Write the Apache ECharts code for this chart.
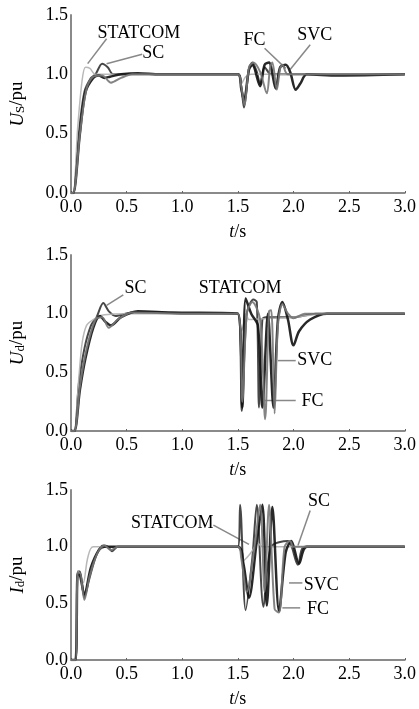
<!DOCTYPE html>
<html>
<head>
    <meta charset="utf-8" />
    <title>Us Ud Id</title>
    <script src="https://cdn.jsdelivr.net/npm/echarts@6/dist/echarts.min.js"></script>
    <style type="text/css">
        html, body { width: 100%; height: 100%; margin: 0; background: #fff; }
        #main { width: 419px; height: 709px; }
    </style>
</head>
<body>
    <div id="main"></div>
    <script>
        // tick labels
        var xTicks = [0, 0.5, 1.0, 1.5, 2.0, 2.5, 3.0];
        var yTicks = [0, 0.5, 1.0, 1.5];

        // Us/pu
        var usSC = [[0,0],[0.02,0],[0.07,0.5],[0.12,0.85],[0.18,0.97],[0.22,1.0],[0.28,1.09],[0.33,1.06],[0.38,1.0],[0.6,1.0],[1.5,1.0],
            [1.53,0.9],[1.555,0.72],[1.6,1.05],[1.63,1.1],[1.67,1.02],[1.7,0.92],[1.74,1.06],[1.8,1.0],[3.0,1.0]];
        var usSTATCOM = [[0,0],[0.02,0],[0.06,0.55],[0.1,0.95],[0.13,1.06],[0.17,1.05],[0.22,1.0],[1.5,1.0],
            [1.53,0.92],[1.57,0.98],[1.62,1.0],[3.0,1.0]];
        var usSVC = [[0,0],[0.02,0],[0.08,0.5],[0.13,0.85],[0.2,0.97],[0.25,0.99],[0.3,0.97],[0.35,0.98],[0.45,1.0],[0.6,1.01],[0.8,1.0],[1.5,1.0],
            [1.53,0.88],[1.555,0.78],[1.6,1.04],[1.63,1.08],[1.7,0.9],[1.74,1.08],[1.78,1.1],[1.84,0.88],[1.88,1.06],[1.93,1.08],[1.97,1.02],[2.02,0.87],[2.06,0.92],[2.12,1.0],[2.4,0.99],[3.0,1.0]];
        var usFC = [[0,0],[0.02,0],[0.08,0.5],[0.14,0.88],[0.2,0.98],[0.28,0.99],[0.36,0.93],[0.45,0.97],[0.55,1.0],[1.5,1.0],
            [1.53,0.9],[1.56,0.74],[1.6,1.06],[1.64,1.1],[1.7,1.02],[1.76,0.84],[1.79,1.06],[1.81,1.1],[1.85,0.87],[1.88,1.05],[1.9,1.08],[1.95,1.0],[3.0,1.0]];

        // Ud/pu
        var udSC = [[0,0],[0.03,0],[0.07,0.4],[0.12,0.7],[0.18,0.9],[0.23,0.97],[0.29,1.09],[0.34,1.02],[0.4,0.98],[0.55,1.01],[0.8,1.01],[1.0,1.0],[1.5,1.0],
            [1.535,0.17],[1.58,1.0],[1.64,1.12],[1.67,1.1],[1.69,0.2],[1.72,0.95],[1.75,0.97],[2.0,0.97],[2.2,1.0],[3.0,1.0]];
        var udSTATCOM = [[0,0],[0.03,0],[0.07,0.45],[0.1,0.75],[0.14,0.9],[0.2,0.95],[0.3,0.99],[0.5,1.0],[1.5,1.0],
            [1.53,0.85],[1.58,0.98],[1.6,0.95],[1.8,0.96],[2.0,0.97],[2.3,1.0],[3.0,1.0]];
        var udSVC = [[0,0],[0.03,0],[0.08,0.35],[0.13,0.62],[0.2,0.88],[0.26,0.98],[0.31,0.93],[0.36,0.9],[0.45,0.97],[0.6,1.02],[0.9,1.01],[1.5,1.0],
            [1.54,0.2],[1.57,1.13],[1.62,1.0],[1.68,0.9],[1.72,0.2],[1.77,1.0],[1.82,0.2],[1.86,0.95],[1.9,1.1],[1.95,0.95],[2.0,0.73],[2.05,0.85],[2.15,0.95],[2.3,1.0],[3.0,1.0]];
        var udFC = [[0,0],[0.03,0],[0.08,0.38],[0.14,0.7],[0.22,0.95],[0.28,0.97],[0.34,0.88],[0.42,0.95],[0.55,1.01],[1.0,1.0],[1.5,1.0],
            [1.54,0.25],[1.58,1.0],[1.63,1.1],[1.7,0.95],[1.745,0.1],[1.78,1.02],[1.8,1.03],[1.83,0.15],[1.86,0.9],[1.9,1.08],[1.95,1.0],[2.0,0.96],[2.1,1.0],[3.0,1.0]];

        // Id/pu
        var idSC = [[0,0],[0.04,0],[0.06,0.78],[0.08,0.78],[0.12,0.55],[0.16,0.7],[0.23,0.93],[0.29,1.01],[0.33,1.0],[0.37,0.96],[0.42,1.0],[1.5,1.0],
            [1.52,1.37],[1.57,0.44],[1.63,0.9],[1.67,1.37],[1.73,0.47],[1.8,1.0],[1.95,1.05],[2.04,0.84],[2.1,1.0],[3.0,1.0]];
        var idSTATCOM = [[0,0],[0.04,0],[0.06,0.78],[0.08,0.76],[0.11,0.68],[0.15,0.9],[0.2,1.0],[1.5,1.0],
            [1.55,0.88],[1.62,0.95],[1.68,1.03],[1.72,1.0],[3.0,1.0]];
        var idSVC = [[0,0],[0.04,0],[0.06,0.76],[0.08,0.75],[0.12,0.58],[0.18,0.82],[0.25,0.97],[0.3,1.0],[1.5,1.0],
            [1.55,0.85],[1.6,0.55],[1.67,1.05],[1.72,1.37],[1.76,0.48],[1.81,1.35],[1.87,0.43],[1.93,0.95],[1.98,1.05],[2.05,0.85],[2.12,1.0],[3.0,1.0]];
        var idFC = [[0,0],[0.04,0],[0.06,0.77],[0.08,0.77],[0.12,0.53],[0.17,0.75],[0.24,0.95],[0.3,1.01],[0.36,0.97],[0.42,1.0],[1.5,1.0],
            [1.53,0.9],[1.58,0.6],[1.65,1.0],[1.7,1.37],[1.74,0.6],[1.78,1.37],[1.83,0.45],[1.87,0.42],[1.92,1.0],[1.97,1.05],[2.0,1.0],[3.0,1.0]];

        var seriesNames = ['SC', 'STATCOM', 'SVC', 'FC'];
        var panels = [
            { name: ['U', 'S'], data: [usSC, usSTATCOM, usSVC, usFC] },
            { name: ['U', 'd'], data: [udSC, udSTATCOM, udSVC, udFC] },
            { name: ['I', 'd'], data: [idSC, idSTATCOM, idSVC, idFC] }
        ];

        // annotations: [panel, text, textT, textV, lineT1, lineV1, lineT2, lineV2]
        var notes = [
            [0, 'STATCOM', 0.61, 1.35, 0.32, 1.30, 0.15, 1.09],
            [0, 'SC', 0.74, 1.18, 0.64, 1.17, 0.32, 1.09],
            [0, 'FC', 1.65, 1.29, 1.74, 1.22, 1.93, 1.05],
            [0, 'SVC', 2.19, 1.33, 2.15, 1.25, 1.97, 1.04],
            [1, 'SC', 0.58, 1.22, 0.47, 1.16, 0.32, 1.07],
            [1, 'STATCOM', 1.52, 1.22],
            [1, 'SVC', 2.19, 0.60, 2.02, 0.60, 1.86, 0.60],
            [1, 'FC', 2.17, 0.25, 2.02, 0.26, 1.74, 0.26],
            [2, 'STATCOM', 0.91, 1.21, 1.28, 1.19, 1.60, 1.02],
            [2, 'SC', 2.23, 1.40, 2.15, 1.32, 2.04, 1.01],
            [2, 'SVC', 2.25, 0.66, 2.08, 0.68, 1.96, 0.68],
            [2, 'FC', 2.22, 0.45, 2.06, 0.46, 1.90, 0.46]
        ];

        var lineColors = ['#333', '#b0b0b0', '#111', '#777'];
        var lineWidths = [2, 1.5, 2.5, 2];
        var font = 'Liberation Serif';
        var gridTops = [15, 255, 490];
        var gridHeights = [178, 176, 179];

        var myChart = echarts.init(document.getElementById('main'));

        var grids = [], xAxes = [], yAxes = [], series = [];
        panels.forEach(function (p, g) {
            grids.push({ left: 63, width: 345, top: gridTops[g], height: gridHeights[g] });
            xAxes.push({
                type: 'value', gridIndex: g, min: 0, max: 3, interval: 0.5,
                name: '{i|t}/s', nameLocation: 'middle', nameGap: 30,
                nameTextStyle: { color: '#000', fontFamily: font, fontSize: 18, rich: { i: { fontStyle: 'italic', fontFamily: font, fontSize: 18 } } },
                axisLine: { lineStyle: { color: '#8a8a8a', width: 2 } },
                axisTick: { inside: true, length: 2, lineStyle: { color: '#666' } },
                axisLabel: { color: '#000', fontFamily: font, fontSize: 18, margin: 5, formatter: function (v) { return v.toFixed(1); } },
                splitLine: { show: false }
            });
            yAxes.push({
                type: 'value', gridIndex: g, min: 0, max: 1.5, interval: 0.5,
                name: '{i|' + p.name[0] + '}{s|' + p.name[1] + '}/pu', nameLocation: 'middle', nameGap: 44, nameRotate: 90,
                nameTextStyle: {
                    color: '#000', fontFamily: font, fontSize: 19,
                    rich: {
                        i: { fontStyle: 'italic', fontFamily: font, fontSize: 19 },
                        s: { fontFamily: font, fontSize: 13, padding: [6, 0, 0, 0] }
                    }
                },
                axisLine: { show: true, lineStyle: { color: '#8a8a8a', width: 2 } },
                axisTick: { show: false },
                axisLabel: { color: '#000', fontFamily: font, fontSize: 18, margin: 3, formatter: function (v) { return v.toFixed(1); } },
                splitLine: { show: false }
            });
            p.data.forEach(function (d, k) {
                series.push({
                    name: seriesNames[k], type: 'line', xAxisIndex: g, yAxisIndex: g,
                    data: d, symbol: 'none', smooth: 0.3, silent: true,
                    lineStyle: { color: lineColors[k], width: lineWidths[k], opacity: 0.9 }
                });
            });
        });

        option = {
            backgroundColor: '#fff',
            animation: false,
            grid: grids,
            xAxis: xAxes,
            yAxis: yAxes,
            series: series
        };
        myChart.setOption(option);

        // 标注文字和引线
        var graphics = [];
        notes.forEach(function (n) {
            var finder = { xAxisIndex: n[0], yAxisIndex: n[0] };
            var tp = myChart.convertToPixel(finder, [n[2], n[3]]);
            graphics.push({
                type: 'text', x: tp[0], y: tp[1],
                style: { text: n[1], font: '18px ' + font, fill: '#000', align: 'center', verticalAlign: 'middle' }
            });
            if (n.length > 4) {
                var a = myChart.convertToPixel(finder, [n[4], n[5]]);
                var b = myChart.convertToPixel(finder, [n[6], n[7]]);
                graphics.push({
                    type: 'line', shape: { x1: a[0], y1: a[1], x2: b[0], y2: b[1] },
                    style: { stroke: '#888', lineWidth: 1.5 }
                });
            }
        });
        myChart.setOption({ graphic: graphics });
    </script>
</body>
</html>
